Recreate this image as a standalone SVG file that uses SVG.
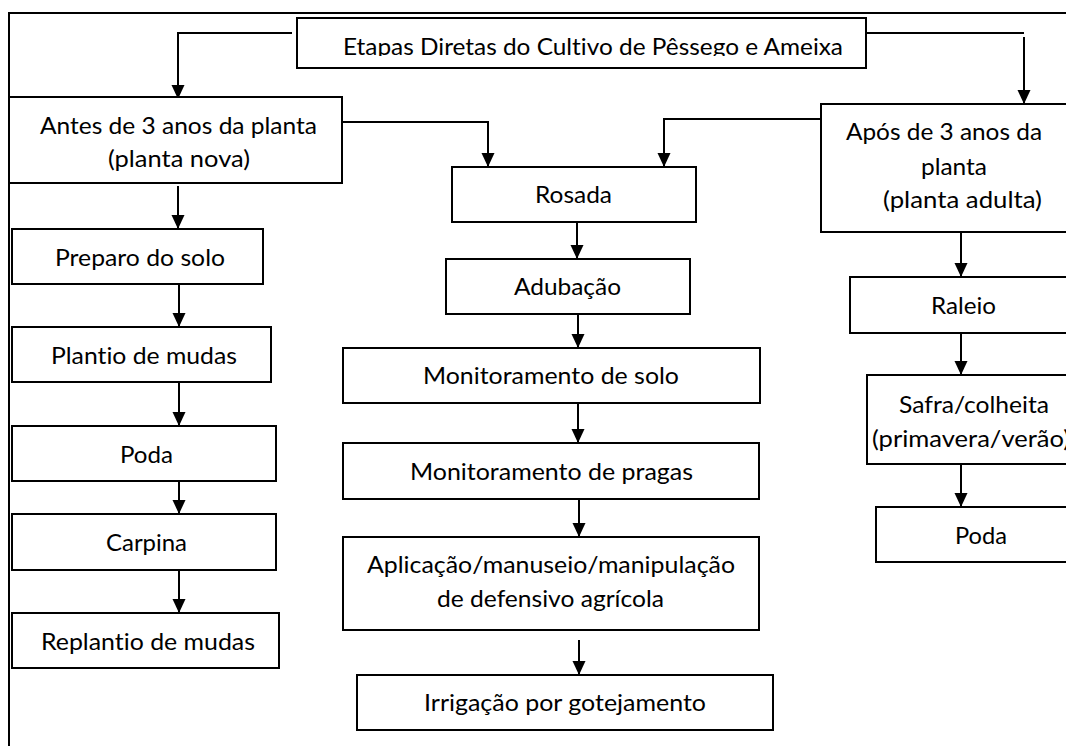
<svg xmlns="http://www.w3.org/2000/svg" width="1066" height="746" viewBox="0 0 1066 746">
<style>
.box{fill:#fff;stroke:#000;stroke-width:2}
.frame{fill:none;stroke:#000;stroke-width:2}
.con{fill:none;stroke:#000;stroke-width:2}
text{font-family:Lato,"Open Sans","Liberation Sans",sans-serif;font-size:24px;fill:#000;text-anchor:middle;font-variant-ligatures:none;font-feature-settings:"liga" 0}
</style>
<defs>
<marker id="arr" markerUnits="userSpaceOnUse" markerWidth="14" markerHeight="14" viewBox="0 0 14 14" refX="13" refY="7" orient="auto">
<path d="M0,0.5 L14,7 L0,13.5 z" fill="#000"/>
</marker>
<clipPath id="titleClip"><rect x="297" y="18" width="569" height="38"/></clipPath>
</defs>
<rect width="1066" height="746" fill="#fff"/>
<g id="frame"><path class="frame" d="M9,746 V13 H1070"/></g>

<g id="connectors">
<path class="con" d="M292,33 H178 V98" marker-end="url(#arr)"/>
<path class="con" d="M866,33 H1024"/>
<path class="con" d="M1024,37 V103" marker-end="url(#arr)"/>
<path class="con" d="M342,122 H488 V166" marker-end="url(#arr)"/>
<path class="con" d="M821,119 H664 V166" marker-end="url(#arr)"/>
<path class="con" d="M178,186 V228" marker-end="url(#arr)"/>
<path class="con" d="M179,284 V326" marker-end="url(#arr)"/>
<path class="con" d="M179,382 V425" marker-end="url(#arr)"/>
<path class="con" d="M179,481 V513" marker-end="url(#arr)"/>
<path class="con" d="M179,570 V612" marker-end="url(#arr)"/>
<path class="con" d="M577,222 V258" marker-end="url(#arr)"/>
<path class="con" d="M578,314 V347" marker-end="url(#arr)"/>
<path class="con" d="M578,403 V442" marker-end="url(#arr)"/>
<path class="con" d="M579,499 V536" marker-end="url(#arr)"/>
<path class="con" d="M579,640 V674" marker-end="url(#arr)"/>
<path class="con" d="M961,232 V276" marker-end="url(#arr)"/>
<path class="con" d="M961,333 V374" marker-end="url(#arr)"/>
<path class="con" d="M961,464 V506" marker-end="url(#arr)"/>
</g>

<g id="title">
<rect class="box" x="297" y="18" width="569" height="50"/>
<text x="593" y="55" textLength="500" lengthAdjust="spacingAndGlyphs" clip-path="url(#titleClip)">Etapas Diretas do Cultivo de Pêssego e Ameixa</text>
</g>

<g id="antes">
<rect class="box" x="9" y="97" width="333" height="86"/>
<text x="178.5" y="134" textLength="277" lengthAdjust="spacingAndGlyphs">Antes de 3 anos da planta</text>
<text x="179" y="167" textLength="142" lengthAdjust="spacingAndGlyphs">(planta nova)</text>
</g>

<g id="apos">
<rect class="box" x="821" y="104" width="260" height="128"/>
<text x="944" y="140" textLength="196" lengthAdjust="spacingAndGlyphs">Após de 3 anos da</text>
<text x="954" y="175" textLength="66" lengthAdjust="spacingAndGlyphs">planta</text>
<text x="962.5" y="208" textLength="159" lengthAdjust="spacingAndGlyphs">(planta adulta)</text>
</g>

<g id="preparo">
<rect class="box" x="12" y="229" width="251" height="55"/>
<text x="140" y="266" textLength="170" lengthAdjust="spacingAndGlyphs">Preparo do solo</text>
</g>
<g id="plantio">
<rect class="box" x="12" y="327" width="259" height="55"/>
<text x="144" y="364" textLength="186" lengthAdjust="spacingAndGlyphs">Plantio de mudas</text>
</g>
<g id="poda-nova">
<rect class="box" x="12" y="426" width="264" height="55"/>
<text x="146.5" y="463" textLength="53" lengthAdjust="spacingAndGlyphs">Poda</text>
</g>
<g id="carpina">
<rect class="box" x="12" y="514" width="264" height="56"/>
<text x="146.5" y="551" textLength="81" lengthAdjust="spacingAndGlyphs">Carpina</text>
</g>
<g id="replantio">
<rect class="box" x="12" y="613" width="267" height="55"/>
<text x="148" y="650" textLength="214" lengthAdjust="spacingAndGlyphs">Replantio de mudas</text>
</g>

<g id="rosada">
<rect class="box" x="452" y="167" width="244" height="55"/>
<text x="573.5" y="203" textLength="77" lengthAdjust="spacingAndGlyphs">Rosada</text>
</g>
<g id="adubacao">
<rect class="box" x="446" y="259" width="244" height="55"/>
<text x="567.5" y="295" textLength="107" lengthAdjust="spacingAndGlyphs">Adubação</text>
</g>
<g id="mon-solo">
<rect class="box" x="343" y="348" width="417" height="55"/>
<text x="551" y="384" textLength="256" lengthAdjust="spacingAndGlyphs">Monitoramento de solo</text>
</g>
<g id="mon-pragas">
<rect class="box" x="343" y="443" width="416" height="56"/>
<text x="551.5" y="480" textLength="283" lengthAdjust="spacingAndGlyphs">Monitoramento de pragas</text>
</g>
<g id="aplicacao">
<rect class="box" x="343" y="537" width="416" height="93"/>
<text x="551" y="573" textLength="368" lengthAdjust="spacingAndGlyphs">Aplicação/manuseio/manipulação</text>
<text x="550.5" y="607" textLength="227" lengthAdjust="spacingAndGlyphs">de defensivo agrícola</text>
</g>
<g id="irrigacao">
<rect class="box" x="357" y="675" width="416" height="55"/>
<text x="565" y="711" textLength="282" lengthAdjust="spacingAndGlyphs">Irrigação por gotejamento</text>
</g>

<g id="raleio">
<rect class="box" x="850" y="277" width="231" height="56"/>
<text x="963.5" y="314" textLength="65" lengthAdjust="spacingAndGlyphs">Raleio</text>
</g>
<g id="safra">
<rect class="box" x="867" y="375" width="214" height="89"/>
<text x="974" y="413" textLength="150" lengthAdjust="spacingAndGlyphs">Safra/colheita</text>
<text x="872" y="447" textLength="198" lengthAdjust="spacingAndGlyphs" style="text-anchor:start">(primavera/verão)</text>
</g>
<g id="poda-adulta">
<rect class="box" x="876" y="507" width="205" height="55"/>
<text x="981" y="544" textLength="52" lengthAdjust="spacingAndGlyphs">Poda</text>
</g>
</svg>
